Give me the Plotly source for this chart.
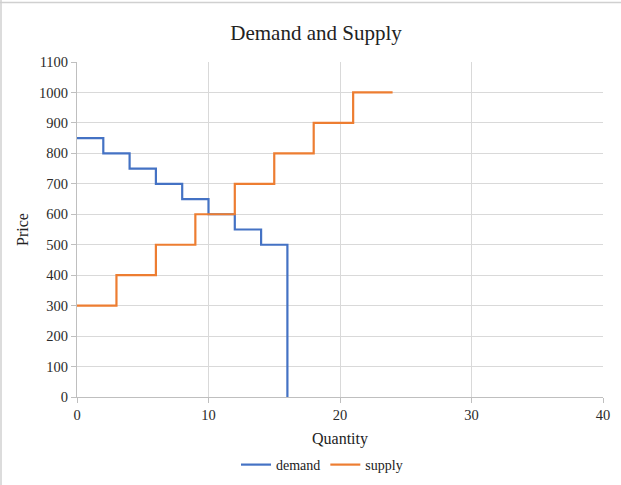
import plotly.graph_objects as go

demand_qty = [0, 2, 4, 6, 8, 10, 12, 14, 16]
demand_price = [850, 800, 750, 700, 650, 600, 550, 500, 0]
supply_qty = [0, 3, 6, 9, 12, 15, 18, 21, 24]
supply_price = [300, 400, 500, 600, 700, 800, 900, 1000, 1000]

W, H = 621, 485
L, R, T, B = 77, 18, 62, 88
pw, ph = W - L - R, H - T - B

def px(x):
    return (x - L) / pw

def py(y):
    return (H - B - y) / ph

font = "Liberation Serif"

fig = go.Figure()
fig.add_trace(go.Scatter(x=demand_qty, y=demand_price, mode="lines", name="demand",
                         line=dict(color="#4472C4", width=2.2, shape="hv")))
fig.add_trace(go.Scatter(x=supply_qty, y=supply_price, mode="lines", name="supply",
                         line=dict(color="#ED7D31", width=2.2, shape="hv")))

tickfont = dict(size=14.5, color="#2a2a2a", family=font)

fig.update_layout(
    width=W, height=H,
    margin=dict(l=L, r=R, t=T, b=B, autoexpand=False),
    paper_bgcolor="white", plot_bgcolor="white",
    font=dict(family=font, color="#2a2a2a", size=12),
    title=dict(text="Demand and Supply", x=316 / W, xanchor="center", xref="container",
               y=1 - 33 / H, yanchor="middle",
               font=dict(size=21, color="#222222", family=font)),
    xaxis=dict(range=[0, 40], tickvals=[0, 10, 20, 30, 40], showgrid=True,
               gridcolor="#D9D9D9", gridwidth=1, zeroline=False,
               showline=True, linecolor="#BFBFBF", linewidth=1,
               ticks="outside", ticklen=5, tickcolor="#BFBFBF",
               tickfont=tickfont, automargin=False,
               title=dict(text="Quantity", font=dict(size=16, color="#222222", family=font), standoff=10),
               fixedrange=True),
    yaxis=dict(range=[0, 1100], tickvals=list(range(0, 1101, 100)), showgrid=True,
               gridcolor="#D9D9D9", gridwidth=1, zeroline=False,
               showline=True, linecolor="#BFBFBF", linewidth=1,
               ticks="outside", ticklen=5, tickcolor="#BFBFBF",
               tickfont=tickfont, automargin=False,
               title=dict(text="Price", font=dict(size=16, color="#222222", family=font), standoff=6),
               fixedrange=True),
    legend=dict(orientation="h", x=px(322), xanchor="center", y=py(465), yanchor="middle",
                font=dict(size=14, color="#222222", family=font),
                bgcolor="rgba(0,0,0,0)"),
    showlegend=True,
    shapes=[
        dict(type="line", xref="paper", yref="paper", x0=px(0), x1=px(621), y0=py(2.5), y1=py(2.5),
             line=dict(color="#D0D0D0", width=1.5)),
        dict(type="line", xref="paper", yref="paper", x0=px(1), x1=px(1), y0=py(0), y1=py(485),
             line=dict(color="#D0D0D0", width=1.5)),
    ],
)

fig.write_html("out.html", config={"displayModeBar": False},
               post_script="document.body.style.margin='0';document.body.style.overflow='hidden';")
